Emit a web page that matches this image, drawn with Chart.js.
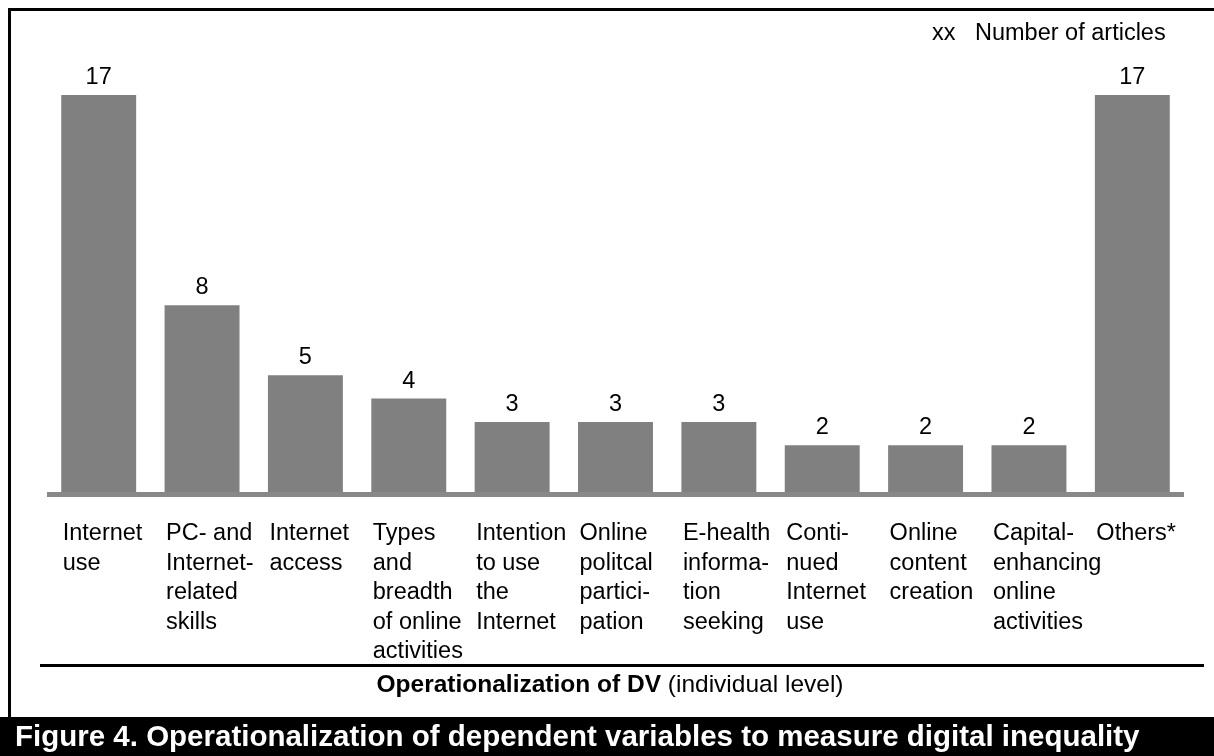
<!DOCTYPE html>
<html>
<head>
<meta charset="utf-8">
<script src="https://cdn.jsdelivr.net/npm/chart.js@4/dist/chart.umd.min.js"></script>
<style>
  html, body { margin: 0; padding: 0; background: #ffffff; }
  #wrap { position: relative; width: 1214px; height: 756px; }
</style>
</head>
<body>
<div id="wrap"><canvas id="c"></canvas></div>
<script>
// ---- data ----
const categories = [
  ["Internet", "use"],
  ["PC- and", "Internet-", "related", "skills"],
  ["Internet", "access"],
  ["Types", "and", "breadth", "of online", "activities"],
  ["Intention", "to use", "the", "Internet"],
  ["Online", "politcal", "partici-", "pation"],
  ["E-health", "informa-", "tion", "seeking"],
  ["Conti-", "nued", "Internet", "use"],
  ["Online", "content", "creation"],
  ["Capital-", "enhancing", "online", "activities"],
  ["Others*"]
];
const articleCounts = [17, 8, 5, 4, 3, 3, 3, 2, 2, 2, 17];
const legendMarker = "xx";
const legendLabel = "Number of articles";
const axisTitleBold = "Operationalization of DV";
const axisTitleRest = " (individual level)";
const captionText = "Figure 4. Operationalization of dependent variables to measure digital inequality";

const FONT = '"Liberation Sans", Arial, Helvetica, sans-serif';
Chart.defaults.font.family = FONT;

const decorPlugin = {
  id: 'decor',
  beforeDraw(chart) {
    const ctx = chart.ctx;
    ctx.save();
    ctx.fillStyle = '#ffffff';
    ctx.fillRect(0, 0, chart.width, chart.height);
    ctx.restore();
  },
  afterDraw(chart) {
    const ctx = chart.ctx;
    const area = chart.chartArea;
    const meta = chart.getDatasetMeta(0);
    ctx.save();

    // frame (left and top)
    ctx.fillStyle = '#000000';
    ctx.fillRect(8, 8, 3, 712);
    ctx.fillRect(8, 8, chart.width - 8, 3);

    // x axis line
    ctx.fillStyle = '#888888';
    ctx.fillRect(area.left, area.bottom, area.right - area.left, 5);

    // value labels
    ctx.fillStyle = '#000000';
    ctx.font = '23.5px ' + FONT;
    ctx.textAlign = 'center';
    ctx.textBaseline = 'alphabetic';
    meta.data.forEach((bar, i) => {
      ctx.fillText(String(articleCounts[i]), bar.x, bar.y - 11);
    });

    // category labels (left aligned under each bar)
    ctx.textAlign = 'left';
    meta.data.forEach((bar, i) => {
      const left = bar.x - bar.width / 2 + 1.5;
      categories[i].forEach((line, j) => {
        ctx.fillText(line, left, 540 + j * 29.5);
      });
    });

    // legend
    ctx.font = '23.5px ' + FONT;
    ctx.fillText(legendMarker, 932, 40);
    ctx.fillText(legendLabel, 975, 40);

    // separator line
    ctx.fillStyle = '#000000';
    ctx.fillRect(40, 664, 1164, 3);

    // axis title
    ctx.font = 'bold 24.5px ' + FONT;
    const wb = ctx.measureText(axisTitleBold).width;
    ctx.font = '24.5px ' + FONT;
    const wr = ctx.measureText(axisTitleRest).width;
    let x0 = 610 - (wb + wr) / 2;
    ctx.font = 'bold 24.5px ' + FONT;
    ctx.fillText(axisTitleBold, x0, 692);
    ctx.font = '24.5px ' + FONT;
    ctx.fillText(axisTitleRest, x0 + wb, 692);

    // caption bar
    ctx.fillStyle = '#000000';
    ctx.fillRect(0, 717, chart.width, chart.height - 717);
    ctx.fillStyle = '#ffffff';
    ctx.font = 'bold 29.5px ' + FONT;
    ctx.fillText(captionText, 15, 746);

    ctx.restore();
  }
};

new Chart(document.getElementById('c'), {
  type: 'bar',
  data: {
    labels: categories.map(c => c.join(' ')),
    datasets: [{
      data: articleCounts,
      backgroundColor: '#808080',
      borderWidth: 0,
      categoryPercentage: 1.0,
      barPercentage: 0.725
    }]
  },
  options: {
    responsive: true,
    maintainAspectRatio: false,
    animation: false,
    devicePixelRatio: 1,
    layout: { padding: { left: 47, right: 30, top: 95, bottom: 264 } },
    plugins: { legend: { display: false }, tooltip: { enabled: false } },
    scales: {
      x: { display: false, grid: { display: false } },
      y: { display: false, min: 0, max: 17, grid: { display: false } }
    }
  },
  plugins: [decorPlugin]
});
</script>
</body>
</html>
